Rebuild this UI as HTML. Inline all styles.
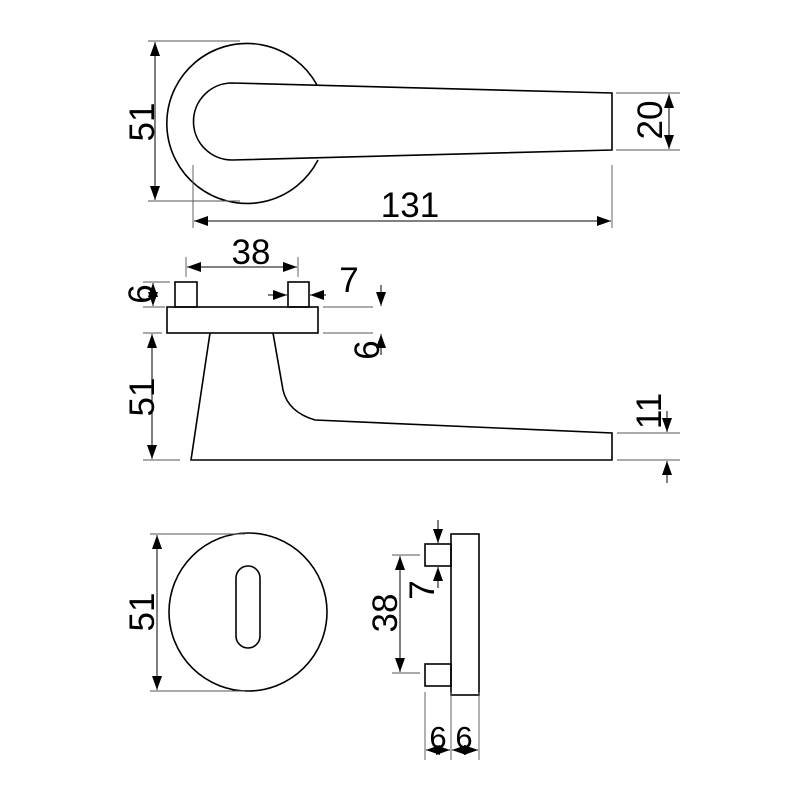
<!DOCTYPE html>
<html><head><meta charset="utf-8"><style>body{margin:0;background:#fff}svg{display:block}</style></head><body>
<svg width="800" height="800" viewBox="0 0 800 800" xmlns="http://www.w3.org/2000/svg">
<defs>
<marker id="a" viewBox="0 0 14 10" refX="14" refY="5" markerWidth="15" markerHeight="10" orient="auto-start-reverse" markerUnits="userSpaceOnUse"><path d="M0,0 L14,5 L0,10 z" fill="#000"/></marker>
</defs>
<g fill="none" stroke="#000" stroke-width="1.6">
<path d="M317,85 A80,80 0 1 0 318,160"/>
<path d="M232,83 L612,93 L612,150 L232,160 A38.5,38.5 0 0 1 232,83 Z"/>
<rect x="167" y="307" width="151" height="26"/>
<rect x="175" y="282" width="22" height="25"/>
<rect x="288" y="282" width="21" height="25"/>
<path d="M210,333 L191,460 L612,460 L612,433 L315,420 Q288,412 283,390 L273,333"/>
<circle cx="248" cy="612" r="79"/>
<rect x="236" y="566" width="24" height="82" rx="12"/>
<rect x="451" y="534" width="28" height="161"/>
<rect x="425" y="544" width="26" height="22"/>
<rect x="425" y="664" width="26" height="22"/>
</g>
<g stroke="#555" stroke-width="0.9" fill="none">
<path d="M148,41H240M148,201H240M616,93H680M616,150H680M193,165V228M612,165V228"/>
<path d="M186,257V277M298,257V277M143,282H170M143,307H165M323,307H373M323,333H373M143,333H162M143,460H180M617,433H680M617,460H680"/>
<path d="M150,534H245M150,691H245M392,555H420M392,673H420M425,692V760M451,692V760M479,692V760"/>
</g>
<g stroke="#000" stroke-width="1" marker-start="url(#a)" marker-end="url(#a)">
<line x1="155" y1="42" x2="155" y2="200"/>
<line x1="669" y1="94" x2="669" y2="149"/>
<line x1="194" y1="221" x2="611" y2="221"/>
<line x1="187" y1="267" x2="297" y2="267"/>
<line x1="153" y1="283" x2="153" y2="306"/>
<line x1="152" y1="334" x2="152" y2="459"/>
<line x1="157" y1="535" x2="157" y2="690"/>
<line x1="400" y1="556" x2="400" y2="672"/>
<line x1="426" y1="750" x2="450" y2="750"/>
<line x1="452" y1="750" x2="478" y2="750"/>
</g>
<g stroke="#000" stroke-width="1" marker-end="url(#a)">
<line x1="268" y1="295" x2="287" y2="295"/>
<line x1="326" y1="295" x2="310" y2="295"/>
<line x1="381" y1="285" x2="381" y2="306"/>
<line x1="381" y1="355" x2="381" y2="334"/>
<line x1="667" y1="411" x2="667" y2="432"/>
<line x1="667" y1="483" x2="667" y2="461"/>
<line x1="438" y1="520" x2="438" y2="543"/>
<line x1="438" y1="588" x2="438" y2="567"/>
</g>
<g font-family="Liberation Sans, sans-serif" font-size="35" fill="#000" text-anchor="middle">
<text x="410" y="217">131</text>
<text x="251" y="264">38</text>
<text x="349" y="292">7</text>
<text x="438" y="748" font-size="31">6</text>
<text x="464" y="748" font-size="31">6</text>
<text transform="translate(154,122) rotate(-90)">51</text>
<text transform="translate(662,120) rotate(-90)">20</text>
<text transform="translate(153,294) rotate(-90)">6</text>
<text transform="translate(379,350) rotate(-90)">6</text>
<text transform="translate(154,397) rotate(-90)">51</text>
<text transform="translate(661,411) rotate(-90)">11</text>
<text transform="translate(154,612) rotate(-90)">51</text>
<text transform="translate(397,613) rotate(-90)">38</text>
<text transform="translate(434,590) rotate(-90)">7</text>
</g>
</svg>
</body></html>
